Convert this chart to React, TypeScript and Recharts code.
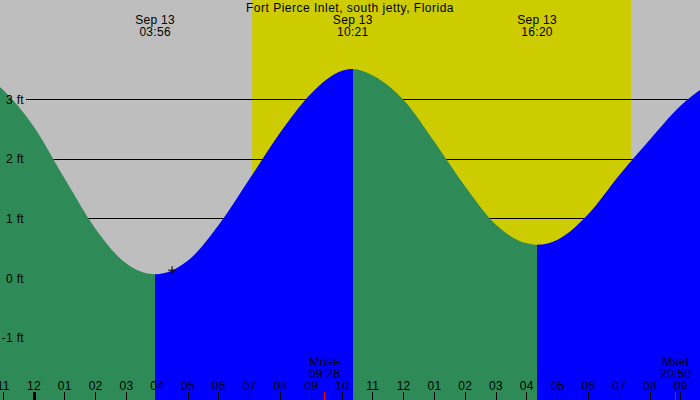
import React from 'react';
import {
  ComposedChart,
  Area,
  XAxis,
  YAxis,
  ReferenceArea,
  ReferenceLine,
  ReferenceDot,
} from 'recharts';

// ---------- data ----------
const TITLE = 'Fort Pierce Inlet, south jetty, Florida';
const DATE_LABEL = 'Sep 13';

// hours since midnight Sep 13 (negative = previous evening)
const tideHours = [
  -1.104, -1, 0, 1, 2, 3, 3.933, 5, 6, 7, 8, 9, 10, 10.35, 11, 12, 13, 14, 15, 16,
  16.333, 17, 18, 19, 20, 21, 21.623,
];
// tide height in feet
const tideHeights = [
  3.21, 3.16, 2.54, 1.67, 0.83, 0.25, 0.07, 0.3, 0.9, 1.67, 2.45, 3.1, 3.48, 3.51, 3.4,
  2.99, 2.29, 1.54, 0.9, 0.59, 0.565, 0.65, 1.08, 1.73, 2.33, 2.9, 3.16,
];

const tideEventTimes = ['03:56', '10:21', '16:20'];
const sunTimes = ['07:05', '19:23'];
const moonNames = ['Mrise', 'Mset'];
const moonTimes = ['09:26', '20:50'];
const nowTime = '04:29';
const nowHeight = 0.14;

const hourTicks = [-1, 0, 1, 2, 3, 4, 5, 6, 7, 8, 9, 10, 11, 12, 13, 14, 15, 16, 17, 18, 19, 20, 21];
const hourTickLabels = [
  '11', '12', '01', '02', '03', '04', '05', '06', '07', '08', '09', '10',
  '11', '12', '01', '02', '03', '04', '05', '06', '07', '08', '09',
];
const heightTicks = [-1, 0, 1, 2, 3];
const heightTickLabels = ['-1 ft', '0 ft', '1 ft', '2 ft', '3 ft'];

const X_DOMAIN: [number, number] = [-1.104, 21.623];
const Y_DOMAIN: [number, number] = [-2.036, 4.667];
const GRID_START_HOUR = -0.26;

// ---------- style ----------
const W = 700;
const H = 400;
const FONT = '"Liberation Sans", Arial, sans-serif';
const LS = 0.3;
const GRAY = '#bebebe';
const YELLOW = '#cccc00';
const GREEN = '#2e8b57';
const BLUE = '#0000ff';

const toHours = (t: string) => {
  const [h, m] = t.split(':').map(Number);
  return h + m / 60;
};

const data = tideHours.map((h, i) => ({ hour: h, height: tideHeights[i] }));
const eventHours = tideEventTimes.map(toHours);
const moonHours = moonTimes.map(toHours);
const sunHours = sunTimes.map(toHours);

// gradient stops (fraction along the data span)
const span = tideHours[tideHours.length - 1] - tideHours[0];
const frac = (h: number) => (h - tideHours[0]) / span;
const segColors = [GREEN, BLUE, GREEN, BLUE];
const stops: { offset: number; color: string }[] = [];
const bounds = [0, ...eventHours.map(frac), 1];
for (let i = 0; i < segColors.length; i++) {
  stops.push({ offset: bounds[i], color: segColors[i] });
  stops.push({ offset: bounds[i + 1], color: segColors[i] });
}

const txt = {
  fontFamily: FONT,
  fontSize: 12,
  fill: '#000',
  letterSpacing: LS,
} as const;

const BottomTick = (props: any) => {
  const { x, payload } = props;
  const v = payload.value;
  const mi = moonHours.findIndex((m) => Math.abs(m - v) < 1e-6);
  if (mi >= 0) {
    return (
      <g>
        <line x1={x} x2={x} y1={H - 8} y2={H} stroke="#ff0000" strokeWidth={1} shapeRendering="crispEdges" />
        <text x={x} y={H - 34} textAnchor="middle" {...txt}>
          {moonNames[mi]}
        </text>
        <text x={x} y={H - 22.5} textAnchor="middle" {...txt}>
          {moonTimes[mi]}
        </text>
      </g>
    );
  }
  const ti = hourTicks.indexOf(v);
  return (
    <g>
      <line
        x1={x}
        x2={x}
        y1={H - 8}
        y2={H}
        stroke="#000"
        strokeWidth={v === 0 ? 3 : 1}
        shapeRendering="crispEdges"
      />
      <text x={x} y={H - 10.5} textAnchor="middle" {...txt}>
        {hourTickLabels[ti]}
      </text>
    </g>
  );
};

const TopTick = (props: any) => {
  const { x, payload } = props;
  const i = eventHours.findIndex((e) => Math.abs(e - payload.value) < 1e-6);
  return (
    <g>
      <text x={x} y={24.3} textAnchor="middle" {...txt}>
        {DATE_LABEL}
      </text>
      <text x={x} y={36} textAnchor="middle" {...txt}>
        {tideEventTimes[i]}
      </text>
    </g>
  );
};

const LeftTick = (props: any) => {
  const { y, payload } = props;
  const i = heightTicks.indexOf(payload.value);
  return (
    <text x={24} y={y + 4.3} textAnchor="end" {...txt}>
      {heightTickLabels[i]}
    </text>
  );
};

const PlusShape = (props: any) => {
  const { cx, cy } = props;
  return (
    <g>
      <line x1={cx - 4} x2={cx + 4} y1={cy} y2={cy} stroke="#000" strokeWidth={1} />
      <line x1={cx} x2={cx} y1={cy - 4} y2={cy + 4} stroke="#000" strokeWidth={1} />
    </g>
  );
};

export default function App() {
  return (
    <div
      style={{
        position: 'absolute',
        left: 0,
        top: 0,
        width: W,
        height: H,
        background: GRAY,
        overflow: 'hidden',
      }}
    >
      <ComposedChart
        width={W}
        height={H}
        data={data}
        margin={{ top: 0, right: 0, bottom: 0, left: 0 }}
      >
        <defs>
          <linearGradient id="tideFill" x1="0" y1="0" x2="1" y2="0">
            {stops.map((s, i) => (
              <stop key={i} offset={s.offset} stopColor={s.color} stopOpacity={1} />
            ))}
          </linearGradient>
        </defs>
        <XAxis
          dataKey="hour"
          type="number"
          domain={X_DOMAIN}
          allowDataOverflow
          ticks={[...hourTicks, ...moonHours]}
          interval={0}
          mirror
          axisLine={false}
          tickLine={false}
          tick={<BottomTick />}
        />
        <XAxis
          xAxisId="top"
          dataKey="hour"
          type="number"
          orientation="top"
          domain={X_DOMAIN}
          allowDataOverflow
          ticks={eventHours}
          interval={0}
          mirror
          axisLine={false}
          tickLine={false}
          tick={<TopTick />}
        />
        <YAxis
          type="number"
          domain={Y_DOMAIN}
          allowDataOverflow
          ticks={heightTicks}
          interval={0}
          mirror
          axisLine={false}
          tickLine={false}
          tick={<LeftTick />}
        />
        <ReferenceArea
          x1={sunHours[0]}
          x2={sunHours[1]}
          y1={Y_DOMAIN[0]}
          y2={Y_DOMAIN[1]}
          fill={YELLOW}
          fillOpacity={1}
          stroke="none"
          {...{ zIndex: 10 }}
        />
        {heightTicks.map((t) => (
          <ReferenceLine
            key={t}
            segment={[
              { x: GRID_START_HOUR, y: t },
              { x: X_DOMAIN[1], y: t },
            ]}
            stroke="#000"
            strokeWidth={1}
            shapeRendering="crispEdges"
            {...{ zIndex: 50 }}
          />
        ))}
        <Area
          dataKey="height"
          type="monotone"
          baseValue="dataMin"
          stroke="none"
          fill="url(#tideFill)"
          fillOpacity={1}
          isAnimationActive={false}
          dot={false}
          activeDot={false}
          {...{ zIndex: 100 }}
        />
        <ReferenceDot
          x={toHours(nowTime)}
          y={nowHeight}
          r={4}
          shape={<PlusShape />}
          {...{ zIndex: 600 }}
        />
      </ComposedChart>
      <div
        style={{
          position: 'absolute',
          left: 0,
          top: 2,
          width: W,
          textAlign: 'center',
          fontFamily: FONT,
          fontSize: 12,
          lineHeight: '12px',
          letterSpacing: 0.5,
          color: '#000',
          pointerEvents: 'none',
        }}
      >
        {TITLE}
      </div>
    </div>
  );
}
